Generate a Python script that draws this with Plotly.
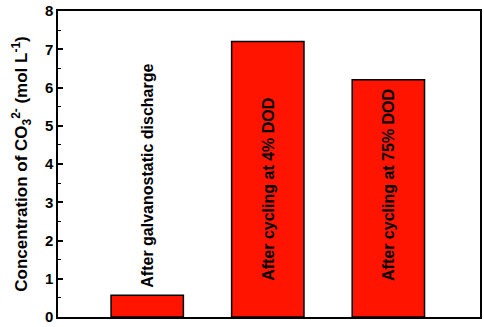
import plotly.graph_objects as go

categories = ["After galvanostatic discharge", "After cycling at 4% DOD", "After cycling at 75% DOD"]
values = [0.57, 7.2, 6.2]
tick_vals = [0, 1, 2, 3, 4, 5, 6, 7, 8]
label_base = [0.72, 0.9, 0.9]

x = list(range(len(categories)))
FONT = "Liberation Sans, Arial, sans-serif"

fig = go.Figure()
fig.add_trace(go.Bar(
    x=x, y=values, width=0.6,
    marker=dict(color="#FF1400", line=dict(color="black", width=1.5)),
    showlegend=False,
))

for xi, cat, yb in zip(x, categories, label_base):
    fig.add_annotation(
        x=xi, y=yb, text=cat, textangle=-90,
        showarrow=False, xanchor="center", yanchor="bottom",
        font=dict(family=FONT, size=16, color="black", weight="bold"),
    )

fig.update_layout(
    width=484, height=327,
    margin=dict(l=58, r=2, t=7, b=7),
    plot_bgcolor="white", paper_bgcolor="white",
    font=dict(family=FONT, color="black"),
)
fig.update_xaxes(
    range=[-0.74, 2.76], showticklabels=False, ticks="",
    showline=True, linecolor="black", linewidth=1.5, mirror=True,
    showgrid=False, zeroline=False,
)
fig.update_yaxes(
    range=[0, 8], tickvals=tick_vals,
    ticks="inside", ticklen=5, tickwidth=1.5, tickcolor="black",
    minor=dict(ticks="inside", ticklen=3, tickwidth=1.2, tickcolor="black", dtick=0.5),
    tickfont=dict(size=15, family=FONT, weight="bold"),
    ticklabeloverflow="allow",
    showline=True, linecolor="black", linewidth=1.5, mirror=True,
    showgrid=False, zeroline=False,
    title=dict(text="Concentration of CO<sub>3</sub><sup>2-</sup> (mol L<sup>-1</sup>)",
               font=dict(size=17, family=FONT, weight="bold"), standoff=13),
)

fig.write_html("out.html", config={"displayModeBar": False},
               post_script="document.body.style.margin='0';")
